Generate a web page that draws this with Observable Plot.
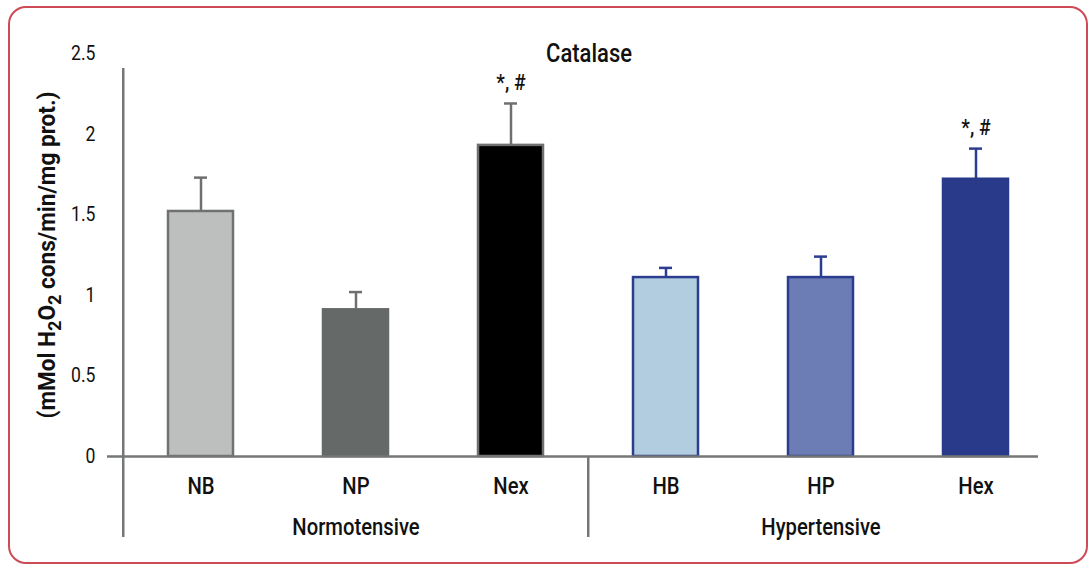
<!DOCTYPE html>
<html>
<head>
<meta charset="utf-8">
<script src="https://cdn.jsdelivr.net/npm/d3@7"></script>
<script src="https://cdn.jsdelivr.net/npm/@observablehq/plot@0.6"></script>
<style>
  html, body { margin: 0; padding: 0; background: #fff; }
  #wrap { position: relative; width: 1089px; height: 567px; overflow: hidden; }
  #border { position: absolute; left: 8px; top: 6px; width: 1080px; height: 558px; box-sizing: border-box;
            border: 2px solid #cd4b55; border-radius: 18px; pointer-events: none; }
  #chart { position: absolute; left: 0; top: 0; }
</style>
</head>
<body>
<div id="wrap"><div id="chart"></div><div id="border"></div></div>
<script>
// ---- data ----
const categories = ["NB", "NP", "Nex", "HB", "HP", "Hex"];
const groupOf    = ["Normotensive", "Normotensive", "Normotensive", "Hypertensive", "Hypertensive", "Hypertensive"];
const values     = [1.52, 0.91, 1.93, 1.11, 1.11, 1.72];
const errors     = [0.21, 0.11, 0.26, 0.06, 0.13, 0.19];
const marks      = ["", "", "*, #", "", "", "*, #"];
const groups     = ["Normotensive", "Hypertensive"];
const groupCenters = ["NP", "HP"];
const yTicks     = [0, 0.5, 1, 1.5, 2, 2.5];
const fills      = ["#bdbfbe", "#656968", "#000000", "#b2cce0", "#6c7db6", "#283a89"];
const strokes    = ["#707271", "#656968", "#6e706f", "#2c3d8f", "#2c3d8f", "#283a89"];
const errColors  = ["#6e706f", "#6e706f", "#6e706f", "#2c3d8f", "#2c3d8f", "#2c3d8f"];
const title      = "Catalase";
const yLabel     = "(mMol H2O2 cons/min/mg prot.)";

const data = categories.map((c, i) => ({
  cat: c, group: groupOf[i], value: values[i], err: errors[i], sig: marks[i],
  fill: fills[i], stroke: strokes[i], ec: errColors[i]
}));

const W = 1089, H = 567;
const mL = 122, mR = 34, mT = 53, mB = 111;
const step = (W - mL - mR) / categories.length;
const font = "Roboto, 'Liberation Sans', sans-serif";
const gray = "#757776";
const condense = 0.88;        // narrow the glyphs, like a condensed face
const yLabelLength = 327;

const plot = Plot.plot({
  width: W, height: H,
  marginLeft: mL, marginRight: mR, marginTop: mT, marginBottom: mB,
  style: { fontFamily: font, color: "#111", background: "transparent" },
  x: { domain: categories, paddingInner: 0.58, paddingOuter: 0.29, axis: null },
  y: { domain: [0, 2.5], axis: null },
  marks: [
    // bars
    Plot.barY(data, { x: "cat", y: "value", fill: d => d.fill, stroke: d => d.stroke, strokeWidth: 2.5 }),
    // error bars
    Plot.ruleX(data, { x: "cat", y1: "value", y2: d => d.value + d.err, stroke: d => d.ec, strokeWidth: 2.5 }),
    Plot.tickY(data, { x: "cat", y: d => d.value + d.err, stroke: d => d.ec, strokeWidth: 2.5,
                       insetLeft: 26, insetRight: 26 }),
    // baseline
    Plot.ruleY([0], { stroke: gray, strokeWidth: 2.5, insetLeft: -15, insetRight: 17 }),
    // left axis line
    Plot.ruleX([categories[0]], { x: d => d, dx: -step / 2, stroke: gray, strokeWidth: 2.5,
                                  insetTop: 15, insetBottom: -81 }),
    // group separator
    Plot.ruleX([categories[3]], { x: d => d, y1: 0, dx: -step / 2, stroke: gray, strokeWidth: 2.5,
                                  insetBottom: -81 }),
    // y tick labels
    Plot.text(yTicks, { y: d => d, text: d => String(d), frameAnchor: "left", textAnchor: "end",
                        dx: -27, fontSize: 20 }),
    // x tick labels
    Plot.text(data, { x: "cat", y: 0, text: "cat", dy: 30, fontSize: 23, fontWeight: 500 }),
    // group labels
    Plot.text(groups, { x: (d, i) => groupCenters[i], y: 0, text: d => d, dy: 71, fontSize: 23, fontWeight: 500 }),
    // significance marks
    Plot.text(data.filter(d => d.sig), { x: "cat", y: d => d.value + d.err, text: "sig", dy: -21,
                                         fontSize: 22, fontWeight: 500 }),
    // title
    Plot.text([title], { frameAnchor: "top", lineAnchor: "middle", text: d => d, fontSize: 25, fontWeight: 500 }),
    // y label
    Plot.text([yLabel], { frameAnchor: "left", textAnchor: "middle", text: d => d, rotate: -90, dx: -75,
                          fontSize: 24, fontWeight: "bold" })
  ]
});

// subscripts in the y label
d3.select(plot).selectAll("text").filter(function () { return this.textContent === yLabel; })
  .each(function () {
    const t = d3.select(this);
    t.text(null);
    t.append("tspan").text("(mMol H");
    t.append("tspan").attr("dy", "0.3em").attr("font-size", "0.8em").text("2");
    t.append("tspan").attr("dy", "-0.24em").text("O");
    t.append("tspan").attr("dy", "0.3em").attr("font-size", "0.8em").text("2");
    t.append("tspan").attr("dy", "-0.24em").text(" cons/min/mg prot.)");
  });

document.getElementById("chart").appendChild(plot);

// condensed look
d3.select(plot).selectAll("text").each(function () {
  const len = this.getComputedTextLength();
  if (!len) return;
  const target = this.textContent === yLabel ? yLabelLength : len * condense;
  this.setAttribute("textLength", target);
  this.setAttribute("lengthAdjust", "spacingAndGlyphs");
});
</script>
</body>
</html>
